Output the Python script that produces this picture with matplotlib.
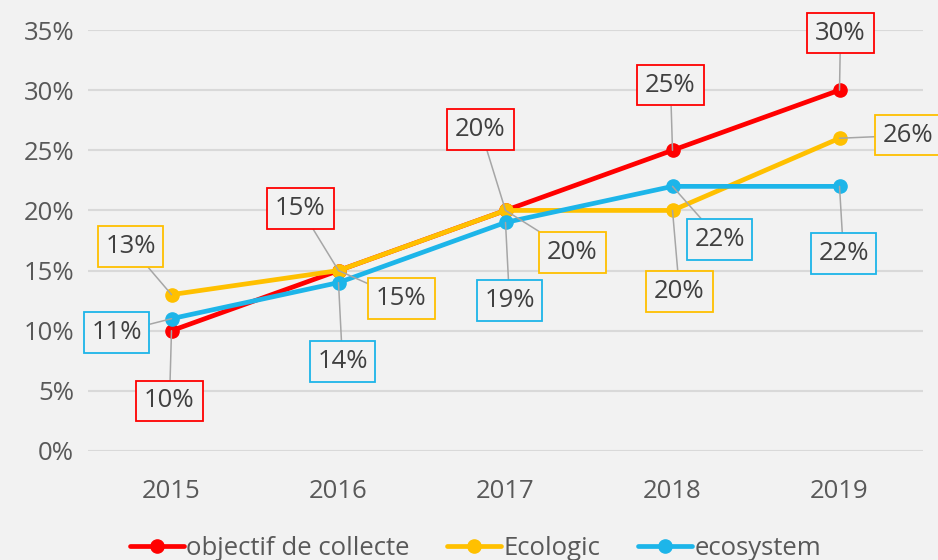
import matplotlib
matplotlib.use("Agg")
import matplotlib.pyplot as plt
from matplotlib.ticker import FuncFormatter, MultipleLocator

years = ["2015", "2016", "2017", "2018", "2019"]
objectif = [10, 15, 20, 25, 30]
ecologic = [13, 15, 20, 20, 26]
ecosystem = [11, 14, 19, 22, 22]

series_names = ["objectif de collecte", "Ecologic", "ecosystem"]
colors = ["#FF0000", "#FFC000", "#1DB5E9"]

# label offsets (pixels) from each point
offsets = [
    [(-2, -70), (-38, 62), (-25, 81), (-2, 65), (1, 57)],
    [(-41, 48), (63, -28), (67, -42), (7, -81), (69, 3)],
    [(-55, -14), (4, -79), (4, -78), (47, -53), (4, -67)],
]

plt.rcParams['font.family'] = ['Open Sans', 'DejaVu Sans']
bg = "#F2F2F2"
fig = plt.figure(figsize=(9.38, 5.6), dpi=100, facecolor=bg)
ax = fig.add_axes([88/938, 109/560, 835/938, 421/560], facecolor=bg)

x = list(range(len(years)))
data = [objectif, ecologic, ecosystem]
for vals, c, name in zip(data, colors, series_names):
    ax.plot(x, vals, color=c, lw=3.4, marker='o', markersize=9.5,
            solid_capstyle='round', label=name, zorder=3)

for vals, c, offs in zip(data, colors, offsets):
    for xi, v, off in zip(x, vals, offs):
        ax.annotate(f"{v}%", xy=(xi, v), xytext=off, textcoords='offset pixels',
                    ha='center', va='center', fontsize=18.5, color='#404040',
                    bbox=dict(boxstyle='square,pad=0.3', fc=bg, ec=c, lw=1.3),
                    arrowprops=dict(arrowstyle='-', color='#A6A6A6', lw=1.1,
                                    shrinkA=0, shrinkB=0),
                    zorder=5, annotation_clip=False)

ax.set_xlim(-0.5, len(years) - 0.5)
ax.set_ylim(0, 35)
ax.yaxis.set_major_locator(MultipleLocator(5))
ax.yaxis.set_major_formatter(FuncFormatter(lambda v, p: f"{int(v)}%"))
ax.set_xticks(x)
ax.set_xticklabels(years)
ax.grid(axis='y', color='#D9D9D9', lw=1.5)
ax.set_axisbelow(True)
for s in ax.spines.values():
    s.set_visible(False)
ax.tick_params(length=0, labelsize=18.5, colors='#595959', pad=10)
ax.tick_params(axis='x', pad=20)

leg = fig.legend(loc='center', bbox_to_anchor=(0.507, 0.02), ncol=3, frameon=False,
                 fontsize=18.5, labelcolor='#595959', handlelength=2.1,
                 handletextpad=0.1, columnspacing=1.45)

fig.savefig("out.png", dpi=100, facecolor=bg)
